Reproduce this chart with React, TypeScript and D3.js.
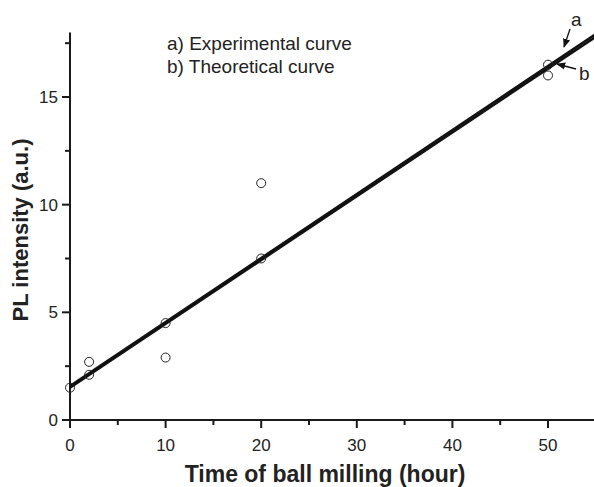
import React, { useEffect, useRef } from 'react';
import * as d3 from 'd3';

// measured points (hours, PL a.u.)
const hours = [0, 2, 2, 10, 10, 20, 20, 50, 50];
const intensity = [1.5, 2.7, 2.1, 4.5, 2.9, 11, 7.5, 16.5, 16.0];

// fitted lines, value at x = 0 and x = 55
const lineX = [0, 55];
const curveA = [1.58, 17.92];
const curveB = [1.5, 17.8];

const xMajor = [0, 10, 20, 30, 40, 50];
const xMinor = [5, 15, 25, 35, 45, 55];
const yMajor = [0, 5, 10, 15];
const yMinor = [2.5, 7.5, 12.5, 17.5];

const legendLines = ['a) Experimental curve', 'b) Theoretical curve'];

const W = 594;
const H = 487;
const FONT = 'Arial, "Liberation Sans", Helvetica, sans-serif';

const App: React.FC = () => {
  const ref = useRef<SVGSVGElement | null>(null);

  useEffect(() => {
    if (!ref.current) return;
    const svg = d3.select(ref.current);
    svg.selectAll('*').remove();

    const x = d3.scaleLinear().domain([0, 55]).range([70, 595.8]);
    const y = d3.scaleLinear().domain([0, 18]).range([420, 32.4]);
    const ink = '#1a1a1a';

    // axes lines
    const ax = svg.append('g').attr('stroke', ink).attr('stroke-width', 2);
    ax.append('line').attr('x1', x(0)).attr('x2', x(0)).attr('y1', y(18)).attr('y2', y(0));
    ax.append('line').attr('x1', x(0)).attr('x2', W).attr('y1', y(0)).attr('y2', y(0));

    // x ticks (outward)
    ax.selectAll('.xmaj').data(xMajor).enter().append('line')
      .attr('x1', (d) => x(d)).attr('x2', (d) => x(d))
      .attr('y1', y(0)).attr('y2', y(0) + 8);
    ax.selectAll('.xmin').data(xMinor).enter().append('line')
      .attr('x1', (d) => x(d)).attr('x2', (d) => x(d))
      .attr('y1', y(0)).attr('y2', y(0) + 5);
    // y ticks (outward)
    ax.selectAll('.ymaj').data(yMajor).enter().append('line')
      .attr('x1', x(0) - 8).attr('x2', x(0))
      .attr('y1', (d) => y(d)).attr('y2', (d) => y(d));
    ax.selectAll('.ymin').data(yMinor).enter().append('line')
      .attr('x1', x(0) - 5).attr('x2', x(0))
      .attr('y1', (d) => y(d)).attr('y2', (d) => y(d));

    // tick labels
    svg.append('g').selectAll('text').data(xMajor).enter().append('text')
      .attr('x', (d) => x(d)).attr('y', y(0) + 31)
      .attr('text-anchor', 'middle')
      .attr('font-family', FONT).attr('font-size', 17).attr('fill', '#222')
      .text((d) => d);
    svg.append('g').selectAll('text').data(yMajor).enter().append('text')
      .attr('x', x(0) - 12).attr('y', (d) => y(d) + 6)
      .attr('text-anchor', 'end')
      .attr('font-family', FONT).attr('font-size', 17).attr('fill', '#222')
      .text((d) => d);

    // axis titles
    svg.append('text')
      .attr('x', 325).attr('y', 482)
      .attr('text-anchor', 'middle')
      .attr('font-family', FONT).attr('font-size', 23).attr('font-weight', 'bold').attr('fill', '#222')
      .text('Time of ball milling (hour)');
    svg.append('text')
      .attr('transform', 'translate(28,230) rotate(-90)')
      .attr('text-anchor', 'middle')
      .attr('font-family', FONT).attr('font-size', 22).attr('font-weight', 'bold').attr('fill', '#222')
      .text('PL intensity (a.u.)');

    // fitted lines
    const line = d3.line<number>().x((_, i) => x(lineX[i])).y((d) => y(d));
    svg.append('defs').append('clipPath').attr('id', 'plot')
      .append('rect').attr('x', x(0)).attr('y', 0).attr('width', W - x(0)).attr('height', y(0));
    [curveB, curveA].forEach((c) => {
      svg.append('path').datum(c).attr('d', line)
        .attr('clip-path', 'url(#plot)')
        .attr('fill', 'none').attr('stroke', '#111').attr('stroke-width', 2.5);
    });

    // points
    svg.append('g').selectAll('circle').data(hours).enter().append('circle')
      .attr('cx', (d) => x(d)).attr('cy', (_, i) => y(intensity[i]))
      .attr('r', 4.5)
      .attr('fill', 'none').attr('stroke', '#222').attr('stroke-width', 1);

    // legend
    svg.append('g').selectAll('text').data(legendLines).enter().append('text')
      .attr('x', 167).attr('y', (_, i) => 50 + i * 23)
      .attr('font-family', FONT).attr('font-size', 19).attr('fill', '#222')
      .text((d) => d);

    // labels with arrows
    svg.append('defs').append('marker').attr('id', 'arr')
      .attr('viewBox', '0 0 10 10').attr('refX', 9).attr('refY', 5)
      .attr('markerWidth', 7).attr('markerHeight', 7).attr('orient', 'auto')
      .append('path').attr('d', 'M0,1 L10,5 L0,9 Z').attr('fill', '#111');
    svg.append('text').attr('x', 571).attr('y', 26)
      .attr('font-family', FONT).attr('font-size', 19).attr('fill', '#222').text('a');
    svg.append('line').attr('x1', 570).attr('y1', 29).attr('x2', 564).attr('y2', 47)
      .attr('stroke', '#111').attr('stroke-width', 1.3).attr('marker-end', 'url(#arr)');
    svg.append('text').attr('x', 579).attr('y', 80)
      .attr('font-family', FONT).attr('font-size', 19).attr('fill', '#222').text('b');
    svg.append('line').attr('x1', 576).attr('y1', 69).attr('x2', 557).attr('y2', 64)
      .attr('stroke', '#111').attr('stroke-width', 1.3).attr('marker-end', 'url(#arr)');
  }, []);

  return (
    <svg
      ref={ref}
      width={W}
      height={H}
      style={{ position: 'absolute', left: 0, top: 0, background: '#fff' }}
    />
  );
};

export default App;
